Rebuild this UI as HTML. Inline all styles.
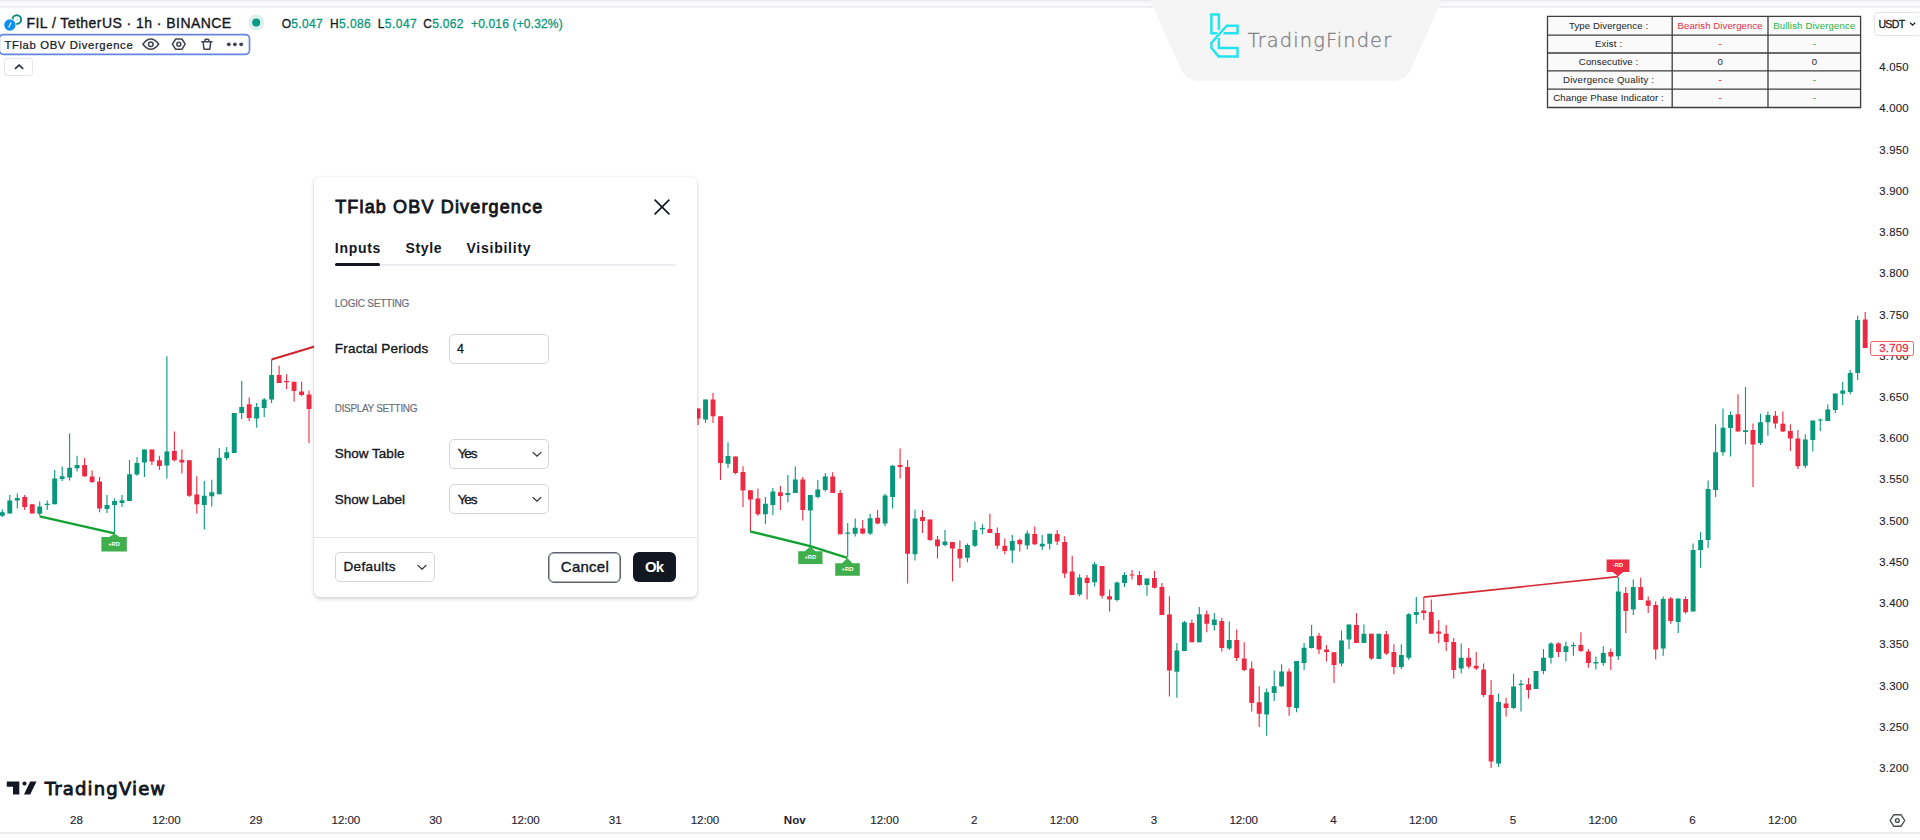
<!DOCTYPE html><html lang="en"><head><meta charset="utf-8"><title>TFlab OBV Divergence</title><style>
html,body{margin:0;padding:0;background:#fff}
#app{position:relative;width:1920px;height:840px;overflow:hidden;background:#fff;font-family:"Liberation Sans",sans-serif;color:#131722}
.t{position:absolute;white-space:nowrap}
.abs,.chart{position:absolute}
.chart{left:0;top:0}
.topband{position:absolute;left:0;top:0;width:1920px;height:8px;background:linear-gradient(#ebebf0 0,#ebebf0 1.3px,#fafafc 1.8px,#fafafc 6.2px,#eaeaf1 6.5px,#eaeaf1 7.4px,#fff 7.8px)}
.botline{position:absolute;left:0;top:832px;width:1920px;height:2px;background:#ececee}
.legend{position:absolute;left:-3px;top:33.5px;width:250px;height:17.8px;border:1.6px solid #6384e4;border-radius:4px;background:#fff}
.collapse{position:absolute;left:4.4px;top:58.4px;width:26.6px;height:16px;border:1px solid #e3e5ea;border-radius:3px;background:#fff}
.usdt{position:absolute;left:1874px;top:12.3px;width:46px;height:21.3px;border:1px solid #e4e6ec;border-radius:4px;background:#fff}
.plabel{position:absolute;left:1870.4px;top:340.7px;width:41.3px;height:13px;border:1px solid #f2606c;border-radius:2.5px;background:#fff}
.dlg{position:absolute;left:314.4px;top:177.3px;width:383px;height:419.4px;background:#fff;border-radius:6px;box-shadow:0 2px 4px rgba(0,0,0,.17),0 0 2px rgba(0,0,0,.10)}
.tabline{position:absolute;left:380px;top:264px;width:296px;height:2px;background:#edeef3;border-radius:1px}
.tabsel{position:absolute;left:334.8px;top:262.7px;width:45.6px;height:3.6px;background:#131722;border-radius:2px}
.inp{position:absolute;width:97.6px;height:27.6px;border:1px solid #d3d5dc;border-radius:5px;background:#fff}
.dlgsep{position:absolute;left:314.4px;top:536.6px;width:383px;height:1px;background:#e4e6eb}
.btn-cancel{position:absolute;left:548.3px;top:551.9px;width:70.5px;height:29px;border:1px solid #5e616b;box-shadow:inset 0 0 0 .5px #5e616b;border-radius:6px;background:#fff}
.btn-ok{position:absolute;left:633.1px;top:552px;width:43.2px;height:30.2px;border-radius:6px;background:#131722}
</style></head><body><div id="app">
<svg class="chart" width="1920" height="840" viewBox="0 0 1920 840" font-family="Liberation Sans, sans-serif"><path d="M2.3 509.4V517.1M9.8 495.1V513.4M17.3 493.4V508.6M39.7 501.4V515.7M47.2 500.6V510.0M54.7 470.0V504.3M62.2 466.6V480.9M69.6 433.4V480.6M77.1 455.7V471.4M107.0 495.1V512.9M114.5 498.6V533.4M122.0 495.1V507.1M129.5 460.0V500.9M137.0 457.1V475.7M144.4 449.4V477.1M166.9 356.3V478.6M204.3 480.9V529.4M211.8 479.7V506.6M219.3 448.0V494.3M226.7 447.1V460.3M234.2 412.9V452.9M241.7 380.9V419.1M256.7 403.1V427.7M264.2 398.0V417.1M271.6 359.4V402.9M316.5 406.6V408.3M705.6 399.4V422.9M728.0 442.3V468.0M765.4 497.1V524.3M772.9 488.0V514.9M787.9 475.1V502.3M795.3 466.6V492.9M810.3 494.9V545.7M817.8 480.0V498.6M825.3 473.1V491.4M847.7 522.9V557.1M855.2 518.6V536.6M870.2 513.7V535.1M885.1 493.7V526.3M892.6 465.1V508.6M915.0 509.4V560.6M945.0 530.0V546.3M967.4 543.4V562.3M974.9 521.7V547.1M982.4 524.3V534.3M1012.3 535.1V563.1M1027.3 530.6V549.4M1042.2 535.1V550.0M1049.7 533.7V549.4M1079.6 574.3V596.3M1094.6 562.0V586.6M1117.0 581.4V601.4M1124.5 572.3V587.1M1147.0 578.6V595.7M1176.9 642.9V697.7M1184.4 620.9V651.1M1199.3 607.1V642.3M1214.3 612.9V630.6M1229.3 621.4V650.0M1266.7 688.6V735.7M1274.2 670.6V700.9M1281.6 664.3V687.1M1296.6 660.9V712.3M1304.1 642.9V670.0M1311.6 625.1V648.6M1341.5 630.6V666.6M1349.0 624.6V649.1M1363.9 624.6V642.9M1378.9 633.7V659.1M1401.3 644.3V669.1M1408.8 612.9V660.0M1416.3 597.1V623.7M1461.2 643.4V673.4M1498.6 693.4V767.1M1513.6 673.7V709.1M1521.0 680.0V711.4M1536.0 670.9V689.1M1543.5 649.1V674.3M1551.0 642.3V663.4M1565.9 641.4V661.4M1573.4 642.3V655.7M1595.9 656.6V669.4M1603.3 646.3V665.7M1618.3 577.1V660.0M1633.3 579.4V614.9M1663.2 596.6V655.7M1678.2 598.6V632.9M1693.1 543.4V611.4M1700.6 532.0V567.7M1708.1 480.6V548.0M1715.6 424.3V497.1M1723.0 408.6V455.7M1730.5 411.4V456.6M1745.5 387.1V444.3M1760.5 413.7V445.1M1767.9 411.4V435.7M1805.3 434.3V468.0M1812.8 420.6V451.4M1820.3 418.6V430.9M1827.8 404.3V420.9M1835.3 393.4V412.9M1842.7 382.0V405.1M1850.2 370.0V394.3M1857.7 315.7V380.0" stroke="#07977b" stroke-width="1.1" fill="none"/><path d="M24.7 495.1V510.0M32.2 504.3V513.4M84.6 458.0V477.1M92.1 470.6V483.1M99.6 476.9V512.3M151.9 449.4V464.9M159.4 455.7V470.0M174.4 431.4V461.4M181.9 449.4V473.4M189.3 460.3V497.1M196.8 476.3V513.4M249.2 397.4V420.9M279.1 365.7V382.9M286.6 374.3V389.1M294.1 381.7V401.4M301.6 381.7V396.3M309.0 390.6V442.9M698.1 408.6V425.1M713.0 392.9V422.9M720.5 416.3V480.0M735.5 456.6V474.3M743.0 466.3V507.1M750.4 490.3V531.4M757.9 488.6V515.7M780.4 485.7V510.0M802.8 477.1V520.6M832.7 472.3V493.1M840.2 490.0V534.3M862.7 520.0V534.3M877.6 510.0V524.3M900.1 448.6V478.6M907.6 460.0V583.4M922.5 510.3V532.9M930.0 519.4V540.9M937.5 536.0V558.6M952.5 542.0V581.4M959.9 540.6V567.7M989.9 513.7V533.1M997.3 527.4V549.1M1004.8 538.6V554.3M1019.8 538.6V551.4M1034.7 526.6V544.9M1057.2 530.0V544.9M1064.7 536.3V578.0M1072.2 555.7V595.1M1087.1 575.1V599.4M1102.1 566.0V598.6M1109.6 589.4V611.4M1132.0 570.0V579.4M1139.5 570.9V585.7M1154.5 570.9V588.6M1161.9 582.9V614.9M1169.4 596.3V696.6M1191.9 619.4V642.3M1206.8 610.6V632.3M1221.8 618.0V651.4M1236.7 629.4V660.9M1244.2 642.3V670.9M1251.7 661.4V711.4M1259.2 686.3V727.1M1289.1 668.6V715.7M1319.0 632.9V654.3M1326.5 645.1V661.4M1334.0 652.3V682.9M1356.5 612.9V642.9M1371.4 633.7V660.0M1386.4 630.9V654.9M1393.9 644.3V674.3M1423.8 597.1V620.0M1431.3 599.4V633.7M1438.7 620.0V642.9M1446.2 625.1V650.9M1453.7 638.0V678.6M1468.7 648.0V668.6M1476.2 652.0V670.0M1483.6 663.4V697.1M1491.1 680.0V768.0M1506.1 697.7V716.6M1528.5 678.0V698.6M1558.5 642.3V657.1M1580.9 632.3V652.0M1588.4 649.1V667.7M1610.8 648.6V670.0M1625.8 587.1V632.9M1640.7 577.7V600.0M1648.2 596.6V612.9M1655.7 601.4V659.4M1670.7 597.1V623.7M1685.6 596.6V613.7M1738.0 394.3V431.4M1753.0 423.4V487.1M1775.4 410.9V428.6M1782.9 411.4V432.0M1790.4 424.3V450.9M1797.9 430.0V469.1M1865.2 312.0V348.0" stroke="#ee2a42" stroke-width="1.1" fill="none"/><path d="M-0.15 512.3h4.9V515.7h-4.9zM7.33 500.6h4.9V513.4h-4.9zM14.81 498.0h4.9V500.6h-4.9zM37.26 506.6h4.9V513.7h-4.9zM44.74 503.7h4.9V505.1h-4.9zM52.22 478.6h4.9V504.3h-4.9zM59.70 476.3h4.9V479.1h-4.9zM67.18 467.7h4.9V477.4h-4.9zM74.66 464.9h4.9V468.3h-4.9zM104.59 504.9h4.9V509.1h-4.9zM112.07 500.9h4.9V504.9h-4.9zM119.55 500.3h4.9V503.1h-4.9zM127.04 474.3h4.9V500.9h-4.9zM134.52 462.9h4.9V474.6h-4.9zM142.00 449.4h4.9V462.6h-4.9zM164.44 451.4h4.9V465.4h-4.9zM201.85 495.7h4.9V504.9h-4.9zM209.33 492.3h4.9V496.3h-4.9zM216.81 457.7h4.9V494.3h-4.9zM224.30 452.3h4.9V458.0h-4.9zM231.78 412.9h4.9V452.9h-4.9zM239.26 407.1h4.9V412.9h-4.9zM254.22 407.1h4.9V418.6h-4.9zM261.70 399.4h4.9V408.0h-4.9zM269.18 374.9h4.9V399.4h-4.9zM314.07 406.5h4.9V407.7h-4.9zM703.11 399.4h4.9V419.4h-4.9zM725.56 456.0h4.9V463.7h-4.9zM762.96 503.7h4.9V514.3h-4.9zM770.44 491.4h4.9V505.1h-4.9zM785.41 493.1h4.9V494.9h-4.9zM792.89 479.4h4.9V492.9h-4.9zM807.85 494.9h4.9V510.6h-4.9zM815.33 489.4h4.9V497.1h-4.9zM822.81 476.6h4.9V490.0h-4.9zM845.26 532.5h4.9V533.7h-4.9zM852.74 527.7h4.9V533.7h-4.9zM867.70 518.3h4.9V533.4h-4.9zM882.67 495.4h4.9V523.4h-4.9zM890.15 465.7h4.9V497.1h-4.9zM912.59 518.6h4.9V554.3h-4.9zM942.52 541.4h4.9V545.1h-4.9zM964.96 545.1h4.9V557.7h-4.9zM972.44 530.0h4.9V545.7h-4.9zM979.93 528.0h4.9V529.2h-4.9zM1009.85 540.9h4.9V550.6h-4.9zM1024.82 533.4h4.9V545.4h-4.9zM1039.78 543.7h4.9V546.6h-4.9zM1047.26 533.7h4.9V543.7h-4.9zM1077.19 577.4h4.9V594.6h-4.9zM1092.15 564.3h4.9V582.3h-4.9zM1114.59 582.6h4.9V600.0h-4.9zM1122.07 575.1h4.9V583.1h-4.9zM1144.52 578.6h4.9V584.9h-4.9zM1174.45 650.6h4.9V671.7h-4.9zM1181.93 622.3h4.9V651.1h-4.9zM1196.89 614.3h4.9V642.3h-4.9zM1211.85 619.4h4.9V625.1h-4.9zM1226.82 640.0h4.9V648.6h-4.9zM1264.22 692.3h4.9V714.6h-4.9zM1271.70 686.3h4.9V692.9h-4.9zM1279.19 671.4h4.9V686.3h-4.9zM1294.15 660.9h4.9V708.0h-4.9zM1301.63 647.7h4.9V662.9h-4.9zM1309.11 636.3h4.9V648.0h-4.9zM1339.04 640.6h4.9V663.4h-4.9zM1346.52 624.6h4.9V639.4h-4.9zM1361.48 633.7h4.9V642.9h-4.9zM1376.45 633.7h4.9V659.1h-4.9zM1398.89 655.1h4.9V667.1h-4.9zM1406.37 614.3h4.9V657.7h-4.9zM1413.85 612.0h4.9V614.9h-4.9zM1458.74 657.7h4.9V668.6h-4.9zM1496.15 702.0h4.9V763.4h-4.9zM1511.11 686.6h4.9V708.0h-4.9zM1518.59 683.7h4.9V685.1h-4.9zM1533.56 670.9h4.9V689.1h-4.9zM1541.04 657.7h4.9V670.9h-4.9zM1548.52 643.4h4.9V657.7h-4.9zM1563.48 646.3h4.9V652.0h-4.9zM1570.96 644.9h4.9V646.3h-4.9zM1593.41 662.0h4.9V663.4h-4.9zM1600.89 652.9h4.9V662.9h-4.9zM1615.85 591.4h4.9V656.3h-4.9zM1630.82 587.1h4.9V609.4h-4.9zM1660.74 599.1h4.9V648.6h-4.9zM1675.71 598.6h4.9V622.0h-4.9zM1690.67 550.0h4.9V611.4h-4.9zM1698.15 540.0h4.9V550.0h-4.9zM1705.63 489.1h4.9V540.0h-4.9zM1713.11 452.3h4.9V490.0h-4.9zM1720.59 427.7h4.9V452.3h-4.9zM1728.08 414.9h4.9V428.0h-4.9zM1743.04 430.3h4.9V432.0h-4.9zM1758.00 422.3h4.9V442.9h-4.9zM1765.48 414.9h4.9V422.3h-4.9zM1802.89 439.4h4.9V465.7h-4.9zM1810.37 420.6h4.9V440.0h-4.9zM1817.85 419.4h4.9V420.6h-4.9zM1825.34 409.4h4.9V420.9h-4.9zM1832.82 393.4h4.9V410.0h-4.9zM1840.30 390.6h4.9V393.7h-4.9zM1847.78 372.9h4.9V392.0h-4.9zM1855.26 320.0h4.9V372.9h-4.9z" fill="#07977b"/><path d="M22.29 497.1h4.9V507.1h-4.9zM29.78 504.3h4.9V513.4h-4.9zM82.15 464.9h4.9V476.3h-4.9zM89.63 476.6h4.9V482.0h-4.9zM97.11 481.4h4.9V508.6h-4.9zM149.48 449.4h4.9V461.4h-4.9zM156.96 460.3h4.9V466.0h-4.9zM171.92 451.1h4.9V460.3h-4.9zM179.41 459.7h4.9V462.6h-4.9zM186.89 460.3h4.9V495.7h-4.9zM194.37 494.6h4.9V504.3h-4.9zM246.74 404.3h4.9V418.0h-4.9zM276.67 374.9h4.9V382.9h-4.9zM284.15 380.9h4.9V382.3h-4.9zM291.63 381.7h4.9V390.9h-4.9zM299.11 391.4h4.9V395.1h-4.9zM306.59 394.6h4.9V408.9h-4.9zM695.63 408.6h4.9V418.6h-4.9zM710.59 399.4h4.9V416.3h-4.9zM718.07 416.3h4.9V462.9h-4.9zM733.04 456.6h4.9V472.9h-4.9zM740.52 472.0h4.9V490.6h-4.9zM748.00 490.3h4.9V499.4h-4.9zM755.48 498.6h4.9V514.3h-4.9zM777.93 492.3h4.9V496.0h-4.9zM800.37 479.4h4.9V510.0h-4.9zM830.30 476.6h4.9V493.1h-4.9zM837.78 492.9h4.9V534.3h-4.9zM860.22 528.6h4.9V533.4h-4.9zM875.19 517.7h4.9V523.4h-4.9zM897.63 464.9h4.9V466.9h-4.9zM905.11 467.1h4.9V553.7h-4.9zM920.07 517.1h4.9V521.1h-4.9zM927.56 519.4h4.9V540.0h-4.9zM935.04 539.4h4.9V546.3h-4.9zM950.00 542.0h4.9V548.6h-4.9zM957.48 549.1h4.9V558.6h-4.9zM987.41 529.1h4.9V533.1h-4.9zM994.89 533.1h4.9V545.7h-4.9zM1002.37 545.7h4.9V550.9h-4.9zM1017.33 540.0h4.9V544.3h-4.9zM1032.30 534.0h4.9V544.3h-4.9zM1054.74 534.0h4.9V541.4h-4.9zM1062.22 542.0h4.9V573.4h-4.9zM1069.70 571.4h4.9V595.1h-4.9zM1084.67 577.7h4.9V583.1h-4.9zM1099.63 566.0h4.9V595.7h-4.9zM1107.11 596.3h4.9V599.4h-4.9zM1129.56 574.4h4.9V575.6h-4.9zM1137.04 575.1h4.9V584.9h-4.9zM1152.00 578.0h4.9V587.7h-4.9zM1159.48 587.1h4.9V614.9h-4.9zM1166.96 614.6h4.9V670.6h-4.9zM1189.41 622.9h4.9V642.3h-4.9zM1204.37 614.3h4.9V623.7h-4.9zM1219.33 620.9h4.9V648.0h-4.9zM1234.30 640.0h4.9V658.0h-4.9zM1241.78 658.6h4.9V670.0h-4.9zM1249.26 668.6h4.9V702.9h-4.9zM1256.74 702.3h4.9V713.7h-4.9zM1286.67 671.4h4.9V707.1h-4.9zM1316.59 635.7h4.9V649.4h-4.9zM1324.08 649.4h4.9V652.0h-4.9zM1331.56 652.3h4.9V664.9h-4.9zM1354.00 625.1h4.9V642.9h-4.9zM1368.96 633.7h4.9V658.6h-4.9zM1383.93 634.3h4.9V653.4h-4.9zM1391.41 652.0h4.9V667.1h-4.9zM1421.33 610.6h4.9V612.9h-4.9zM1428.82 612.0h4.9V633.7h-4.9zM1436.30 631.4h4.9V633.7h-4.9zM1443.78 633.7h4.9V642.0h-4.9zM1451.26 642.0h4.9V670.0h-4.9zM1466.22 657.7h4.9V666.6h-4.9zM1473.71 665.7h4.9V668.6h-4.9zM1481.19 669.4h4.9V695.1h-4.9zM1488.67 695.1h4.9V761.4h-4.9zM1503.63 703.4h4.9V708.0h-4.9zM1526.08 684.3h4.9V690.0h-4.9zM1556.00 643.4h4.9V652.0h-4.9zM1578.45 645.1h4.9V650.9h-4.9zM1585.93 651.4h4.9V662.9h-4.9zM1608.37 652.0h4.9V656.6h-4.9zM1623.34 592.9h4.9V610.9h-4.9zM1638.30 587.1h4.9V600.0h-4.9zM1645.78 600.6h4.9V605.7h-4.9zM1653.26 605.1h4.9V649.4h-4.9zM1668.22 598.6h4.9V620.9h-4.9zM1683.19 599.1h4.9V612.3h-4.9zM1735.56 414.3h4.9V431.4h-4.9zM1750.52 430.0h4.9V444.6h-4.9zM1772.97 415.7h4.9V423.4h-4.9zM1780.45 423.7h4.9V431.4h-4.9zM1787.93 430.9h4.9V438.6h-4.9zM1795.41 438.6h4.9V466.3h-4.9zM1862.74 319.4h4.9V348.0h-4.9z" fill="#ee2a42"/><path d="M39.7 516.3L114.5 533.4" stroke="#12a130" stroke-width="2.4" fill="none"/><path d="M750 531.4L810.2 546.2L847.3 557.9" stroke="#12a130" stroke-width="2.4" fill="none" stroke-linejoin="round"/><path d="M271.6 359.4L318 345.6" stroke="#cf2330" stroke-width="2.1" fill="none"/><path d="M1423.7 597.1L1618 576.6" stroke="#d62c38" stroke-width="1.7" fill="none"/><path d="M101.4 537H109.3L114.5 533.4L119.7 537H126.8V551.4H101.4z" fill="#3fae4c"/><text x="114.10" y="545.90" font-size="5.8" fill="#fff" text-anchor="middle" font-weight="700">+RD</text><path d="M798.2 551.3H805.0L810.2 546.2L815.4000000000001 551.3H822.5V564H798.2z" fill="#3fae4c"/><text x="810.35" y="559.35" font-size="5.8" fill="#fff" text-anchor="middle" font-weight="700">+RD</text><path d="M835.2 563.2H842.0999999999999L847.3 557.9L852.5 563.2H859.8V575.7H835.2z" fill="#3fae4c"/><text x="847.50" y="571.15" font-size="5.8" fill="#fff" text-anchor="middle" font-weight="700">+RD</text><path d="M1606.6 559.4H1629.4V572H1623.2L1618 576.6L1612.8 572H1606.6z" fill="#ee2d45"/><text x="1618.00" y="567.40" font-size="5.8" fill="#fff" text-anchor="middle" font-weight="700">-RD</text><text x="1879.20" y="71.10" font-size="11.4" fill="#1e222d" letter-spacing="0.243" stroke="#1e222d" stroke-width="0.12">4.050</text><text x="1879.20" y="112.33" font-size="11.4" fill="#1e222d" letter-spacing="0.243" stroke="#1e222d" stroke-width="0.12">4.000</text><text x="1879.20" y="153.57" font-size="11.4" fill="#1e222d" letter-spacing="0.243" stroke="#1e222d" stroke-width="0.12">3.950</text><text x="1879.20" y="194.80" font-size="11.4" fill="#1e222d" letter-spacing="0.243" stroke="#1e222d" stroke-width="0.12">3.900</text><text x="1879.20" y="236.04" font-size="11.4" fill="#1e222d" letter-spacing="0.243" stroke="#1e222d" stroke-width="0.12">3.850</text><text x="1879.20" y="277.28" font-size="11.4" fill="#1e222d" letter-spacing="0.243" stroke="#1e222d" stroke-width="0.12">3.800</text><text x="1879.20" y="318.51" font-size="11.4" fill="#1e222d" letter-spacing="0.243" stroke="#1e222d" stroke-width="0.12">3.750</text><text x="1879.20" y="359.75" font-size="11.4" fill="#1e222d" letter-spacing="0.243" stroke="#1e222d" stroke-width="0.12">3.700</text><text x="1879.20" y="400.98" font-size="11.4" fill="#1e222d" letter-spacing="0.243" stroke="#1e222d" stroke-width="0.12">3.650</text><text x="1879.20" y="442.22" font-size="11.4" fill="#1e222d" letter-spacing="0.243" stroke="#1e222d" stroke-width="0.12">3.600</text><text x="1879.20" y="483.45" font-size="11.4" fill="#1e222d" letter-spacing="0.243" stroke="#1e222d" stroke-width="0.12">3.550</text><text x="1879.20" y="524.69" font-size="11.4" fill="#1e222d" letter-spacing="0.243" stroke="#1e222d" stroke-width="0.12">3.500</text><text x="1879.20" y="565.92" font-size="11.4" fill="#1e222d" letter-spacing="0.243" stroke="#1e222d" stroke-width="0.12">3.450</text><text x="1879.20" y="607.15" font-size="11.4" fill="#1e222d" letter-spacing="0.243" stroke="#1e222d" stroke-width="0.12">3.400</text><text x="1879.20" y="648.39" font-size="11.4" fill="#1e222d" letter-spacing="0.243" stroke="#1e222d" stroke-width="0.12">3.350</text><text x="1879.20" y="689.62" font-size="11.4" fill="#1e222d" letter-spacing="0.243" stroke="#1e222d" stroke-width="0.12">3.300</text><text x="1879.20" y="730.86" font-size="11.4" fill="#1e222d" letter-spacing="0.243" stroke="#1e222d" stroke-width="0.12">3.250</text><text x="1879.20" y="772.10" font-size="11.4" fill="#1e222d" letter-spacing="0.243" stroke="#1e222d" stroke-width="0.12">3.200</text><text x="76.50" y="823.70" font-size="11.6" fill="#1e222d" text-anchor="middle" stroke="#1e222d" stroke-width="0.12">28</text><text x="166.30" y="823.70" font-size="11.6" fill="#1e222d" text-anchor="middle" letter-spacing="-0.107" stroke="#1e222d" stroke-width="0.12">12:00</text><text x="256.06" y="823.70" font-size="11.6" fill="#1e222d" text-anchor="middle" stroke="#1e222d" stroke-width="0.12">29</text><text x="345.86" y="823.70" font-size="11.6" fill="#1e222d" text-anchor="middle" letter-spacing="-0.107" stroke="#1e222d" stroke-width="0.12">12:00</text><text x="435.62" y="823.70" font-size="11.6" fill="#1e222d" text-anchor="middle" stroke="#1e222d" stroke-width="0.12">30</text><text x="525.42" y="823.70" font-size="11.6" fill="#1e222d" text-anchor="middle" letter-spacing="-0.107" stroke="#1e222d" stroke-width="0.12">12:00</text><text x="615.18" y="823.70" font-size="11.6" fill="#1e222d" text-anchor="middle" stroke="#1e222d" stroke-width="0.12">31</text><text x="704.98" y="823.70" font-size="11.6" fill="#1e222d" text-anchor="middle" letter-spacing="-0.107" stroke="#1e222d" stroke-width="0.12">12:00</text><text x="794.74" y="823.70" font-size="11.6" fill="#1e222d" text-anchor="middle" font-weight="700">Nov</text><text x="884.54" y="823.70" font-size="11.6" fill="#1e222d" text-anchor="middle" letter-spacing="-0.107" stroke="#1e222d" stroke-width="0.12">12:00</text><text x="974.30" y="823.70" font-size="11.6" fill="#1e222d" text-anchor="middle" stroke="#1e222d" stroke-width="0.12">2</text><text x="1064.10" y="823.70" font-size="11.6" fill="#1e222d" text-anchor="middle" letter-spacing="-0.107" stroke="#1e222d" stroke-width="0.12">12:00</text><text x="1153.86" y="823.70" font-size="11.6" fill="#1e222d" text-anchor="middle" stroke="#1e222d" stroke-width="0.12">3</text><text x="1243.66" y="823.70" font-size="11.6" fill="#1e222d" text-anchor="middle" letter-spacing="-0.107" stroke="#1e222d" stroke-width="0.12">12:00</text><text x="1333.42" y="823.70" font-size="11.6" fill="#1e222d" text-anchor="middle" stroke="#1e222d" stroke-width="0.12">4</text><text x="1423.22" y="823.70" font-size="11.6" fill="#1e222d" text-anchor="middle" letter-spacing="-0.107" stroke="#1e222d" stroke-width="0.12">12:00</text><text x="1512.98" y="823.70" font-size="11.6" fill="#1e222d" text-anchor="middle" stroke="#1e222d" stroke-width="0.12">5</text><text x="1602.78" y="823.70" font-size="11.6" fill="#1e222d" text-anchor="middle" letter-spacing="-0.107" stroke="#1e222d" stroke-width="0.12">12:00</text><text x="1692.54" y="823.70" font-size="11.6" fill="#1e222d" text-anchor="middle" stroke="#1e222d" stroke-width="0.12">6</text><text x="1782.34" y="823.70" font-size="11.6" fill="#1e222d" text-anchor="middle" letter-spacing="-0.107" stroke="#1e222d" stroke-width="0.12">12:00</text><g stroke="#4a4d57" stroke-width="1.4" fill="none"><path d="M1890.1 820.5L1893.7 814.8H1901.1L1904.7 820.5L1901.1 826.2H1893.7z" stroke-linejoin="round"/><circle cx="1897.4" cy="820.5" r="1.9"/></g><g fill="#131722"><path d="M6.8 781.5H19.3V794.5H13V786.7H6.8z"/><circle cx="24.5" cy="783.5" r="2.05"/><path d="M30.2 781.5H36.5L30.2 794.5H24z"/></g></svg>
<div class="topband"></div>
<div class="botline"></div>
<span class="t" style="left:44.80px;top:779.66px;font-size:18px;line-height:18px;letter-spacing:1.154px;font-family:'DejaVu Sans','Liberation Sans',sans-serif;-webkit-text-stroke:0.9px;">TradingView</span>
<svg class="abs" style="left:0;top:10px" width="270" height="26" viewBox="0 10 270 26"><circle cx="16.8" cy="19.6" r="4.3" fill="#fff" stroke="#0f8f79" stroke-width="2"/><circle cx="17" cy="19.4" r="1.2" fill="#bfe5dc"/><circle cx="9.9" cy="25" r="6.5" fill="#fff"/><circle cx="9.9" cy="25" r="5.7" fill="#0b8ff5"/><path d="M8.7 27.4L11.1 22.6" stroke="#fff" stroke-width="1.2"/><circle cx="256.2" cy="22.6" r="8" fill="#089981" fill-opacity="0.14"/><circle cx="256.2" cy="22.6" r="4" fill="#089981"/></svg>
<span class="t" style="left:26.50px;top:16.25px;font-size:14px;line-height:14px;letter-spacing:0.447px;-webkit-text-stroke:0.36px;">FIL / TetherUS · 1h · BINANCE</span>
<span class="t" style="left:281.7px;top:17.94px;font-size:12px;line-height:12px;letter-spacing:0.327px;white-space:pre;-webkit-text-stroke:0.28px">O<span style="color:#07977b">5.047</span></span>
<span class="t" style="left:330px;top:17.94px;font-size:12px;line-height:12px;letter-spacing:0.401px;white-space:pre;-webkit-text-stroke:0.28px">H<span style="color:#07977b">5.086</span></span>
<span class="t" style="left:377.7px;top:17.94px;font-size:12px;line-height:12px;letter-spacing:0.459px;white-space:pre;-webkit-text-stroke:0.28px">L<span style="color:#07977b">5.047</span></span>
<span class="t" style="left:423.3px;top:17.94px;font-size:12px;line-height:12px;letter-spacing:0.261px;white-space:pre;-webkit-text-stroke:0.28px">C<span style="color:#07977b">5.062</span></span>
<span class="t" style="left:471px;top:17.94px;font-size:12px;line-height:12px;letter-spacing:0.164px;white-space:pre;-webkit-text-stroke:0.28px"><span style="color:#07977b">+0.016 (+0.32%)</span></span>
<span class="t" style="left:4.40px;top:39.63px;font-size:11.3px;line-height:11.3px;letter-spacing:0.638px;-webkit-text-stroke:0.22px;">TFlab OBV Divergence</span>
<svg class="abs" style="left:0;top:30px" width="256" height="28" viewBox="0 30 256 28" fill="none" stroke="#40444e" stroke-width="1.5" stroke-linejoin="round" stroke-linecap="round">
<rect x="-0.7" y="34.6" width="250.2" height="19.7" rx="4" stroke="#6585e3" stroke-width="1.7"/>
<path d="M142.9 44.2C145.7 40.6 148.1 39.1 150.8 39.1S155.9 40.6 158.7 44.2C155.9 47.8 153.5 49.3 150.8 49.3S145.7 47.8 142.9 44.2z"/><circle cx="150.8" cy="44.2" r="2.3"/>
<path d="M172.4 44.15L175.7 39H181.9L185.2 44.15L181.9 49.3H175.7z"/><circle cx="178.8" cy="44.15" r="2"/>
<path d="M201.8 41.8H212M204.9 41.5V40.3Q204.9 39.3 205.9 39.3H207.9Q208.9 39.3 208.9 40.3V41.5M203.1 42.2L204 49.2H209.8L210.7 42.2"/>
<g fill="#40444e" stroke="none"><circle cx="228.8" cy="44.3" r="1.9"/><circle cx="234.9" cy="44.3" r="1.9"/><circle cx="241.2" cy="44.3" r="1.9"/></g>
</svg>
<div class="collapse"><svg width="28" height="17" viewBox="0 0 28 17"><path d="M10 9.9L14.1 6.1L18.2 9.9" fill="none" stroke="#2a2e39" stroke-width="1.6"/></svg></div>
<svg class="abs" style="left:1140px;top:0" width="310" height="90" viewBox="1140 0 310 90"><path d="M1149.8 0L1181.5 70Q1186.5 81 1199 81H1393Q1405.5 81 1410.5 70L1441.9 0z" fill="#f5f5f5"/>
<path d="M1218.9 38V47.9H1237.5V56.4H1218.6L1211.4 47.9V42.9L1226.8 25.7H1237.5V33.2H1223.6M1217 33.2H1211.4V14.6H1218.9V30" fill="none" stroke="#23e4ee" stroke-width="2.5" stroke-linejoin="miter"/></svg>
<span class="t" style="left:1247.70px;top:31.28px;font-size:19.4px;line-height:19.4px;font-weight:200;color:#808080;letter-spacing:1.111px;font-family:'DejaVu Sans','Liberation Sans',sans-serif;-webkit-text-stroke:0.32px;">TradingFinder</span>
<svg class="abs" style="left:1540px;top:10px" width="330" height="105" viewBox="1540 10 330 105"><rect x="1547.5" y="16.4" width="313.0999999999999" height="91.1" fill="#fafafa"/><path d="M1547.5 16.4H1860.6M1547.5 35.2H1860.6M1547.5 53H1860.6M1547.5 70.9H1860.6M1547.5 89.1H1860.6M1547.5 107.5H1860.6M1547.5 16.4V107.5M1672.2 16.4V107.5M1768 16.4V107.5M1860.6 16.4V107.5" stroke="#3e3e3e" stroke-width="1.3" fill="none" stroke-linecap="square"/></svg>
<span class="t" style="left:1568.95px;top:21.47px;font-size:9.6px;line-height:9.6px;color:#2a2a2a;letter-spacing:0.114px;-webkit-text-stroke:0.05px;">Type Divergence :</span>
<span class="t" style="left:1677.55px;top:21.47px;font-size:9.6px;line-height:9.6px;color:#e0394a;letter-spacing:0.078px;-webkit-text-stroke:0.05px;">Bearish Divergence</span>
<span class="t" style="left:1773.25px;top:21.47px;font-size:9.6px;line-height:9.6px;color:#2db84d;letter-spacing:0.153px;-webkit-text-stroke:0.05px;">Bullish Divergence</span>
<span class="t" style="left:1595.00px;top:39.27px;font-size:9.6px;line-height:9.6px;color:#2a2a2a;letter-spacing:0.160px;-webkit-text-stroke:0.05px;">Exist :</span>
<span class="t" style="left:1718.50px;top:39.27px;font-size:9.6px;line-height:9.6px;color:#e0394a;-webkit-text-stroke:0.05px;">-</span>
<span class="t" style="left:1812.70px;top:39.27px;font-size:9.6px;line-height:9.6px;color:#2db84d;-webkit-text-stroke:0.05px;">-</span>
<span class="t" style="left:1578.85px;top:57.12px;font-size:9.6px;line-height:9.6px;color:#2a2a2a;letter-spacing:0.103px;-webkit-text-stroke:0.05px;">Consecutive :</span>
<span class="t" style="left:1717.43px;top:57.12px;font-size:9.6px;line-height:9.6px;color:#2a2a2a;-webkit-text-stroke:0.05px;">0</span>
<span class="t" style="left:1811.63px;top:57.12px;font-size:9.6px;line-height:9.6px;color:#2a2a2a;-webkit-text-stroke:0.05px;">0</span>
<span class="t" style="left:1563.05px;top:75.17px;font-size:9.6px;line-height:9.6px;color:#2a2a2a;letter-spacing:0.240px;-webkit-text-stroke:0.05px;">Divergence Quality :</span>
<span class="t" style="left:1718.50px;top:75.17px;font-size:9.6px;line-height:9.6px;color:#e0394a;-webkit-text-stroke:0.05px;">-</span>
<span class="t" style="left:1812.70px;top:75.17px;font-size:9.6px;line-height:9.6px;color:#2db84d;-webkit-text-stroke:0.05px;">-</span>
<span class="t" style="left:1553.25px;top:93.47px;font-size:9.6px;line-height:9.6px;color:#2a2a2a;letter-spacing:0.098px;-webkit-text-stroke:0.05px;">Change Phase Indicator :</span>
<span class="t" style="left:1718.50px;top:93.47px;font-size:9.6px;line-height:9.6px;color:#e0394a;-webkit-text-stroke:0.05px;">-</span>
<span class="t" style="left:1812.70px;top:93.47px;font-size:9.6px;line-height:9.6px;color:#2db84d;-webkit-text-stroke:0.05px;">-</span>
<div class="usdt"></div>
<span class="t" style="left:1878.40px;top:18.63px;font-size:10.6px;line-height:10.6px;letter-spacing:-0.685px;-webkit-text-stroke:0.28px;">USDT</span>
<svg class="abs" style="left:1908px;top:20px" width="10" height="8" viewBox="0 0 10 8"><path d="M2 2.6L4.6 5.2L7.2 2.6" fill="none" stroke="#131722" stroke-width="1.3"/></svg>
<div class="plabel"></div>
<span class="t" style="left:1879.20px;top:343.05px;font-size:11.4px;line-height:11.4px;color:#ee2a42;letter-spacing:0.243px;-webkit-text-stroke:0.28px;">3.709</span>
<div class="dlg"></div>
<span class="t" style="left:335.20px;top:198.06px;font-size:18px;line-height:18px;letter-spacing:1.154px;-webkit-text-stroke:0.85px;">TFlab OBV Divergence</span>
<svg class="abs" style="left:652px;top:197px" width="20" height="20" viewBox="0 0 20 20"><path d="M2.6 2.6L17.4 17.4M17.4 2.6L2.6 17.4" stroke="#131722" stroke-width="1.6" fill="none"/></svg>
<span class="t" style="left:334.80px;top:241.25px;font-size:14px;line-height:14px;font-weight:700;letter-spacing:0.721px;">Inputs</span>
<span class="t" style="left:405.40px;top:241.25px;font-size:14px;line-height:14px;font-weight:700;letter-spacing:0.659px;">Style</span>
<span class="t" style="left:466.50px;top:241.25px;font-size:14px;line-height:14px;font-weight:700;letter-spacing:0.753px;">Visibility</span>
<div class="tabline"></div><div class="tabsel"></div>
<span class="t" style="left:334.80px;top:299.44px;font-size:10px;line-height:10px;color:#6a6d78;letter-spacing:-0.236px;-webkit-text-stroke:0.15px;">LOGIC SETTING</span>
<span class="t" style="left:334.80px;top:342.27px;font-size:13.5px;line-height:13.5px;letter-spacing:0.194px;-webkit-text-stroke:0.36px;">Fractal Periods</span>
<div class="inp" style="left:449.2px;top:334.2px"></div>
<span class="t" style="left:457.00px;top:343.12px;font-size:12.5px;line-height:12.5px;-webkit-text-stroke:0.28px;">4</span>
<span class="t" style="left:334.80px;top:404.24px;font-size:10px;line-height:10px;color:#6a6d78;letter-spacing:-0.338px;-webkit-text-stroke:0.15px;">DISPLAY SETTING</span>
<span class="t" style="left:334.80px;top:447.47px;font-size:13.5px;line-height:13.5px;letter-spacing:0.005px;-webkit-text-stroke:0.36px;">Show Table</span>
<div class="inp" style="left:449.2px;top:439.2px"></div>
<span class="t" style="left:457.70px;top:447.47px;font-size:13.5px;line-height:13.5px;letter-spacing:-1.112px;-webkit-text-stroke:0.36px;">Yes</span>
<svg class="abs" style="left:530.5px;top:449.9px" width="12" height="8" viewBox="0 0 12 8"><path d="M1.7 2.1L6 6.2L10.3 2.1" fill="none" stroke="#2a2e39" stroke-width="1.25"/></svg>
<span class="t" style="left:334.80px;top:492.97px;font-size:13.5px;line-height:13.5px;letter-spacing:-0.039px;-webkit-text-stroke:0.36px;">Show Label</span>
<div class="inp" style="left:449.2px;top:484.2px"></div>
<span class="t" style="left:457.70px;top:492.97px;font-size:13.5px;line-height:13.5px;letter-spacing:-1.112px;-webkit-text-stroke:0.36px;">Yes</span>
<svg class="abs" style="left:530.5px;top:494.9px" width="12" height="8" viewBox="0 0 12 8"><path d="M1.7 2.1L6 6.2L10.3 2.1" fill="none" stroke="#2a2e39" stroke-width="1.25"/></svg>
<div class="dlgsep"></div>
<div class="inp" style="left:335.2px;top:552.3px;width:97.4px;height:28.2px"></div>
<span class="t" style="left:343.50px;top:560.37px;font-size:13.5px;line-height:13.5px;letter-spacing:0.368px;-webkit-text-stroke:0.36px;">Defaults</span>
<svg class="abs" style="left:416px;top:563.4px" width="12" height="8" viewBox="0 0 12 8"><path d="M1.7 2.1L6 6.2L10.3 2.1" fill="none" stroke="#2a2e39" stroke-width="1.25"/></svg>
<div class="btn-cancel"></div>
<span class="t" style="left:560.80px;top:559.00px;font-size:15px;line-height:15px;letter-spacing:0.262px;-webkit-text-stroke:0.36px;">Cancel</span>
<div class="btn-ok"></div>
<span class="t" style="left:645.00px;top:559.20px;font-size:15px;line-height:15px;font-weight:700;color:#fff;letter-spacing:-1.010px;">Ok</span>
</div></body></html>
